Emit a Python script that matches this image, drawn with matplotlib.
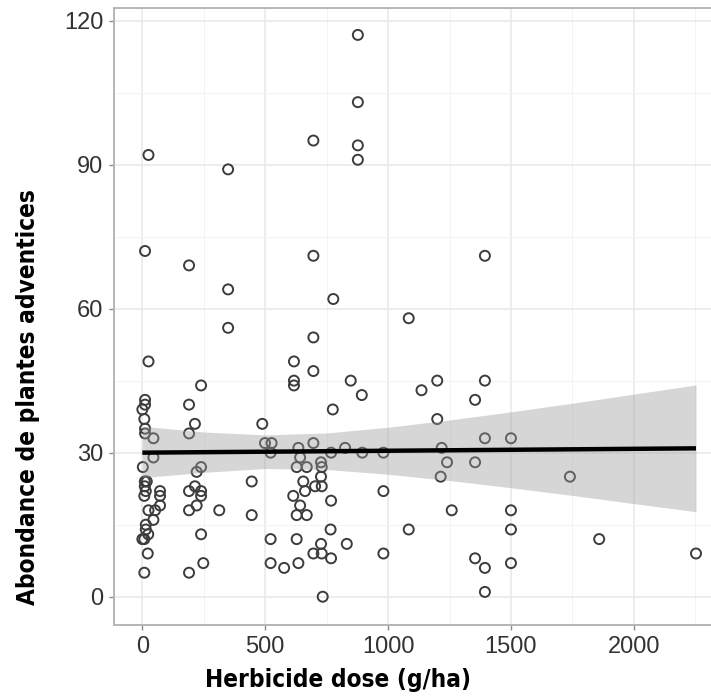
import numpy as np
import matplotlib
matplotlib.use("Agg")
import matplotlib.pyplot as plt
from matplotlib.ticker import MultipleLocator

# herbicide dose (g/ha) and weed abundance per plot
dose = [25, 11, 25, 11, 11, 0, 8, 11, 11, 45, 45, 2, 10, 18, 10, 14, 8,
        72, 72, 72, 25, 52, 45, 14, 14, 0, 8, 24, 22, 8,
        190, 349, 349, 349, 239, 190, 214, 190, 239, 221, 190, 214, 239,
        239, 221, 190, 313, 239, 248, 190,
        445, 445, 488, 499, 526, 522, 522, 522, 577,
        617, 617, 617, 696, 696, 777, 696, 696, 775, 635, 696, 642, 768,
        825, 628, 669, 727, 730, 655, 727, 703, 730, 662, 614, 642, 628,
        669, 768, 766, 628, 727, 832, 696, 730, 768, 635, 734,
        848, 893, 877, 877, 877, 877, 895, 981, 981, 981, 1084, 1084,
        1136, 1200, 1200, 1218, 1240, 1214, 1259, 1354, 1354, 1354,
        1394, 1394, 1394, 1394, 1394, 1500, 1500, 1500, 1500, 1740, 1859,
        2253]
abundance = [92, 72, 49, 41, 40, 39, 37, 35, 34, 33, 29, 27, 24, 24, 23, 22,
             21, 22, 21, 19, 18, 18, 16, 15, 14, 12, 12, 13, 9, 5,
             69, 89, 64, 56, 44, 40, 36, 34, 27, 26, 22, 23, 22,
             21, 19, 18, 18, 13, 7, 5,
             24, 17, 36, 32, 32, 30, 12, 7, 6,
             49, 45, 44, 95, 71, 62, 54, 47, 39, 31, 32, 29, 30,
             31, 27, 27, 28, 27, 24, 25, 23, 23, 22, 21, 19, 17,
             17, 20, 14, 12, 11, 11, 9, 9, 8, 7, 0,
             45, 42, 117, 103, 94, 91, 30, 30, 22, 9, 58, 14,
             43, 45, 37, 31, 28, 25, 18, 41, 28, 8,
             71, 45, 33, 6, 1, 33, 18, 14, 7, 25, 12,
             9]

# linear fit (lm) with its 95% confidence band
fit_x = [0, 2253]
fit_y = [30.0, 30.9]
band_x = [0, 250, 500, 750, 1000, 1250, 1500, 1750, 2000, 2253]
band_hi = [35.5, 34.3, 33.7, 34.1, 35.3, 36.8, 38.5, 40.3, 42.2, 44.1]
band_lo = [24.8, 25.9, 26.7, 26.5, 25.5, 24.2, 22.7, 21.1, 19.4, 17.7]

fig = plt.figure(figsize=(7.11, 6.98), dpi=100)
ax = fig.add_axes([0.1608, 0.105, 0.8575, 0.8835])

ax.scatter(dose, abundance, s=52, facecolors="none", edgecolors="#3c3c3c",
           linewidths=1.4, zorder=3)
ax.fill_between(band_x, band_lo, band_hi, color="#999999", alpha=0.4,
                linewidth=0, zorder=4)
ax.plot(fit_x, fit_y, color="black", lw=3.2, solid_capstyle="butt", zorder=5)

ax.set_xlim(-114, 2367)
ax.set_ylim(-5.83, 122.6)
ax.xaxis.set_major_locator(MultipleLocator(500))
ax.xaxis.set_minor_locator(MultipleLocator(250))
ax.yaxis.set_major_locator(MultipleLocator(30))
ax.yaxis.set_minor_locator(MultipleLocator(15))

ax.grid(which="major", color="#e8e8e8", lw=1.1, zorder=0)
ax.grid(which="minor", color="#f3f3f3", lw=0.7, zorder=0)
ax.set_axisbelow(True)

for s in ax.spines.values():
    s.set_color("#b5b5b5")
    s.set_linewidth(1.4)
ax.spines["right"].set_visible(False)

ax.tick_params(which="major", length=3.5, width=1, color="#8a8a8a",
               labelsize=17, labelcolor="#333333", pad=4.5)
ax.tick_params(which="minor", length=0)
for lab in ax.get_xticklabels() + ax.get_yticklabels():
    lab.set_family("Liberation Sans")

ax.set_xlabel("Herbicide dose (g/ha)", fontsize=17.5, fontweight="bold",
              family="DejaVu Sans", fontstretch="condensed")
ax.set_ylabel("Abondance de plantes adventices", fontsize=17.5,
              fontweight="bold", family="DejaVu Sans", fontstretch="condensed")
ax.xaxis.set_label_coords(0.367, -0.071)
ax.yaxis.set_label_coords(-0.122, 0.369)

fig.savefig("out.png", dpi=100)
